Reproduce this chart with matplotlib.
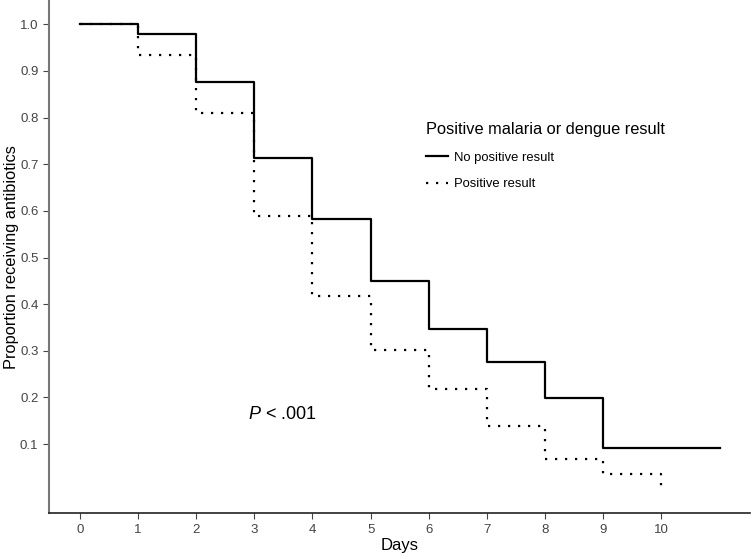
import matplotlib
matplotlib.use("Agg")
import matplotlib.pyplot as plt

plt.rcParams['font.family'] = ['Liberation Sans', 'DejaVu Sans']
plt.rcParams['mathtext.fontset'] = 'custom'
plt.rcParams['mathtext.it'] = 'Liberation Sans:italic'
plt.rcParams['mathtext.rm'] = 'Liberation Sans'

# Kaplan-Meier style step data
days_neg = [0, 1, 2, 3, 4, 5, 6, 7, 8, 9, 11]
no_positive = [1.0, 0.979, 0.877, 0.713, 0.582, 0.449, 0.346, 0.276, 0.198, 0.092, 0.092]

days_pos = [0, 1, 2, 3, 4, 5, 6, 7, 8, 9, 10]
positive = [1.0, 0.934, 0.810, 0.589, 0.418, 0.302, 0.218, 0.138, 0.068, 0.035, 0.0]

x_ticks = list(range(0, 11))
y_ticks = [0.1, 0.2, 0.3, 0.4, 0.5, 0.6, 0.7, 0.8, 0.9, 1.0]

fig = plt.figure(figsize=(7.52, 5.59), dpi=100)
ax = fig.add_axes([0.065, 0.082, 0.933, 0.918])

ax.step(days_neg, no_positive, where='post', color='black', lw=1.6,
        label='No positive result')
ax.step(days_pos, positive, where='post', color='black', lw=1.6,
        linestyle=(0, (1, 3.5)), label='Positive result')

ax.set_xlim(-0.53, 11.53)
ax.set_ylim(-0.048, 1.052)
ax.set_xticks(x_ticks)
ax.set_yticks(y_ticks)
ax.set_yticklabels([f"{v:.1f}" for v in y_ticks])

for s in ['top', 'right']:
    ax.spines[s].set_visible(False)
ax.spines['left'].set_color('#777777')
ax.spines['left'].set_linewidth(1.5)
ax.spines['bottom'].set_color('#222222')
ax.spines['bottom'].set_linewidth(1.2)
ax.tick_params(axis='both', colors='#444444', labelsize=9.5, length=4, width=0.8)

ax.set_xlabel('Days', fontsize=12, color='black', labelpad=2)
ax.set_ylabel('Proportion receiving antibiotics', fontsize=11.8, color='black')
ax.yaxis.set_label_coords(-0.043, 0.5)

leg = ax.legend(loc='upper left', bbox_to_anchor=(0.521, 0.785), frameon=False,
                title='Positive malaria or dengue result', title_fontsize=11.8,
                fontsize=9.4, handlelength=1.65, handletextpad=0.45,
                labelspacing=1.1, alignment='left')

ax.text(3.48, 0.163, r'$\it{P}$ < .001', fontsize=13, ha='center', va='center')

fig.savefig('out.png', dpi=100)
